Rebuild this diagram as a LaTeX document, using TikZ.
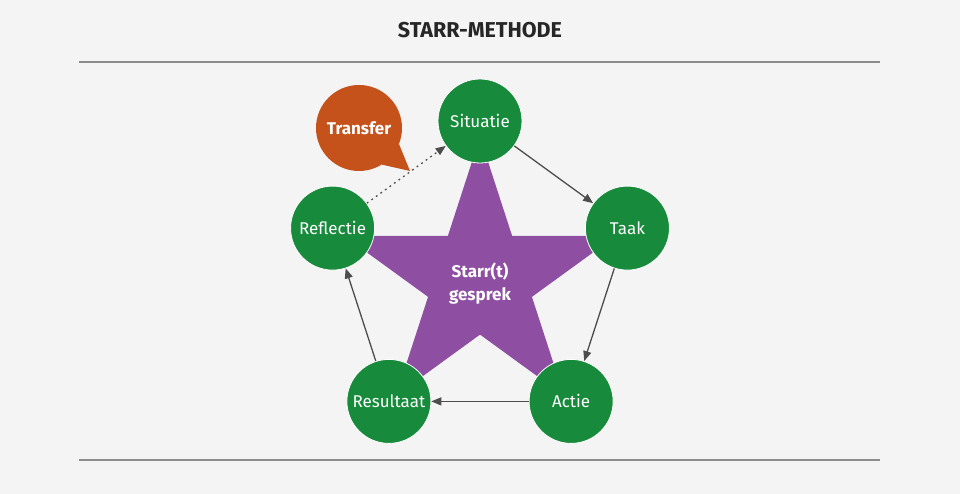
\documentclass[tikz,border=0pt]{standalone}
\usepackage{fontspec}
\setmainfont{Fira Sans}
\usetikzlibrary{arrows.meta}
\definecolor{bg}{HTML}{F4F4F4}
\definecolor{phasegreen}{HTML}{178A3B}
\definecolor{starpurple}{HTML}{8E4FA3}
\definecolor{bubbleorange}{HTML}{C6521B}
\definecolor{arrowgray}{HTML}{4D4D4D}
\definecolor{rulegray}{HTML}{8C8C8C}
\tikzset{
  phase/.style={circle, fill=phasegreen, draw=white, line width=0.8pt, text=white, minimum size=84pt, inner sep=0pt, font=\fontsize{17}{20}\selectfont},
  bubble/.style={circle, fill=bubbleorange, text=white, minimum size=86pt, inner sep=0pt, font=\bfseries\fontsize{17}{20}\selectfont},
  line/.style={draw=arrowgray, line width=1.3pt, -{Triangle[length=10pt, width=8pt]}},
  hint/.style={line, dash pattern=on 1.8pt off 3.8pt},
  rule/.style={draw=rulegray, line width=1.4pt}
}

\begin{document}
\begin{tikzpicture}[x=1pt, y=1pt]
    \fill[bg] (0,0) rectangle (960,494);
    \useasboundingbox (0,0) rectangle (960,494);
    \node[font=\bfseries\fontsize{21.5}{24}\selectfont, text=black!85] (titel) at (480,464) {STARR-METHODE};
    \draw[rule] (79,432) -- (880,432);
    \draw[rule] (79,34) -- (880,34);
    % star in the middle
    \coordinate (mid) at (480,218);
    \begin{scope}[shift={(480,214)}]
      \fill[starpurple] (90:143) foreach \k in {0,...,4} { -- (90+72*\k:143) -- (126+72*\k:54.6) } -- cycle;
    \end{scope}
    \node[text=white, align=center, font=\bfseries\fontsize{17}{23}\selectfont] (gesprek) at (480,210) {Starr(t)\\gesprek};
    % the five steps
    \node[phase] (situatie) at ([shift={(90:155)}]mid) {Situatie};
    \node[phase] (taak) at ([shift={(18:155)}]mid) {Taak};
    \node[phase] (actie) at ([shift={(-54:155)}]mid) {Actie};
    \node[phase] (resultaat) at ([shift={(-126:155)}]mid) {Resultaat};
    \node[phase] (reflectie) at ([shift={(162:155)}]mid) {Reflectie};
    % speech bubble
    \node[bubble] (transfer) at (359,366) {Transfer};
    \fill[bubbleorange] (transfer.-22) -- (410,323) -- (transfer.-58) -- cycle;
    \draw[line] (situatie) -- (taak);
    \draw[line] (taak) -- (actie);
    \draw[line] (actie) -- (resultaat);
    \draw[line] (resultaat) -- (reflectie);
    \draw[hint] (reflectie) -- (situatie);
  \end{tikzpicture}
\end{document}
